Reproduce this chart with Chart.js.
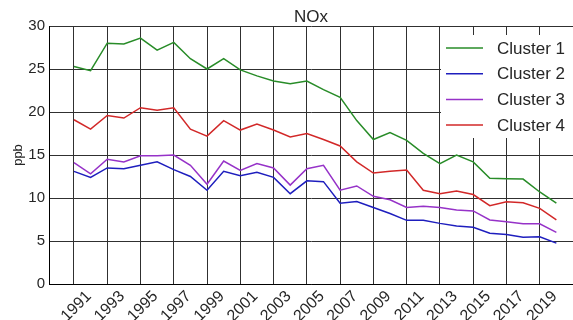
<!DOCTYPE html>
<html>
<head>
<meta charset="utf-8">
<script src="https://cdn.jsdelivr.net/npm/chart.js@4/dist/chart.umd.min.js"></script>
<style>
  html, body { margin: 0; padding: 0; background: #fff; }
  #wrap { width: 573px; height: 320px; }
</style>
</head>
<body>
<div id="wrap"><canvas id="c" width="573" height="320"></canvas></div>
<script>
// Annual mean NOx concentration (ppb) by cluster
const years = [1991,1992,1993,1994,1995,1996,1997,1998,1999,2000,2001,2002,2003,2004,2005,
               2006,2007,2008,2009,2010,2011,2012,2013,2014,2015,2016,2017,2018,2019,2020];
const cluster1 = [25.3,24.8,28.0,27.9,28.6,27.2,28.1,26.2,25.0,26.2,24.9,24.2,23.6,23.3,23.6,
                  22.6,21.7,19.0,16.8,17.6,16.7,15.2,14.0,15.0,14.2,12.3,12.25,12.2,10.7,9.4];
const cluster2 = [13.1,12.4,13.5,13.4,13.8,14.2,13.3,12.5,10.9,13.1,12.6,13.0,12.4,10.5,12.0,
                  11.9,9.4,9.6,8.9,8.2,7.4,7.4,7.05,6.75,6.6,5.9,5.75,5.45,5.5,4.75];
const cluster3 = [14.1,12.8,14.5,14.2,14.9,14.9,15.0,13.8,11.6,14.3,13.2,14.0,13.5,11.5,13.4,
                  13.8,10.9,11.4,10.2,9.8,8.9,9.05,8.9,8.6,8.5,7.45,7.25,7.0,7.0,6.0];
const cluster4 = [19.1,18.0,19.6,19.3,20.5,20.2,20.5,18.0,17.2,19.0,17.9,18.6,17.9,17.1,17.5,
                  16.8,16.05,14.2,12.9,13.1,13.25,10.9,10.5,10.8,10.4,9.1,9.55,9.45,8.8,7.45];
const seriesNames = ['Cluster 1','Cluster 2','Cluster 3','Cluster 4'];
const xTickYears = [1991,1993,1995,1997,1999,2001,2003,2005,2007,2009,2011,2013,2015,2017,2019];
const yTicks = [0,5,10,15,20,25,30];

const colors = ['rgb(40,140,40)','rgb(30,30,190)','rgb(150,50,200)','rgb(210,40,40)'];
const FONT = "'Liberation Sans', Arial, sans-serif";
const TEXT = '#262626';
const GRID = '#303030';

const toPoints = vals => vals.map((v, i) => ({x: years[i], y: v}));
const allSeries = [cluster1, cluster2, cluster3, cluster4];

// Boxed legend in the upper-right corner of the plot area
const insideLegend = {
  id: 'insideLegend',
  afterDatasetsDraw(chart) {
    const {ctx, chartArea} = chart;
    const w = 133, h = 103;
    const left = chartArea.right - w, top = chartArea.top + 9;
    ctx.save();
    ctx.fillStyle = '#fff';
    ctx.fillRect(left + 1, top, w, h);
    ctx.font = '17px ' + FONT;
    ctx.textBaseline = 'middle';
    chart.data.datasets.forEach((ds, i) => {
      const y = top + 13 + i * 25.7;
      ctx.strokeStyle = ds.borderColor;
      ctx.lineWidth = 1.5;
      ctx.beginPath();
      ctx.moveTo(left + 6, y);
      ctx.lineTo(left + 43, y);
      ctx.stroke();
      ctx.fillStyle = TEXT;
      ctx.fillText(ds.label, left + 57, y + 1);
    });
    ctx.restore();
  }
};

new Chart(document.getElementById('c'), {
  type: 'line',
  data: {
    datasets: allSeries.map((vals, i) => ({
      label: seriesNames[i],
      data: toPoints(vals),
      borderColor: colors[i],
      backgroundColor: colors[i],
      borderWidth: 1.5,
      pointRadius: 0,
      tension: 0,
      fill: false
    }))
  },
  options: {
    responsive: false,
    animation: false,
    devicePixelRatio: 1,
    layout: { padding: 0 },
    plugins: {
      legend: { display: false },
      tooltip: { enabled: false },
      title: {
        display: true,
        text: 'NOx',
        fullSize: false,
        color: TEXT,
        font: { family: FONT, size: 17, weight: 'normal', lineHeight: 1 },
        padding: { top: 9, bottom: 0 }
      }
    },
    scales: {
      x: {
        type: 'linear',
        min: 1989.5,
        max: 2021,
        afterBuildTicks: s => { s.ticks = xTickYears.map(v => ({value: v})); },
        afterFit: s => { s.height = 36; },
        grid: { color: GRID, lineWidth: 1, drawTicks: false },
        border: { color: '#000', width: 1 },
        ticks: {
          autoSkip: false,
          minRotation: 45,
          maxRotation: 45,
          padding: 3,
          labelOffset: 15,
          color: TEXT,
          font: { family: FONT, size: 16 },
          callback: v => String(v)
        }
      },
      y: {
        min: 0,
        max: 30,
        afterBuildTicks: s => { s.ticks = yTicks.map(v => ({value: v})); },
        afterFit: s => { s.width = 49; },
        grid: { color: GRID, lineWidth: 1, drawTicks: false },
        border: { color: '#000', width: 1 },
        ticks: {
          padding: 4,
          color: TEXT,
          font: { family: FONT, size: 15 }
        },
        title: {
          display: true,
          text: 'ppb',
          color: TEXT,
          font: { family: FONT, size: 13 },
          padding: { top: 11, bottom: 0 }
        }
      }
    }
  },
  plugins: [insideLegend]
});
</script>
</body>
</html>
